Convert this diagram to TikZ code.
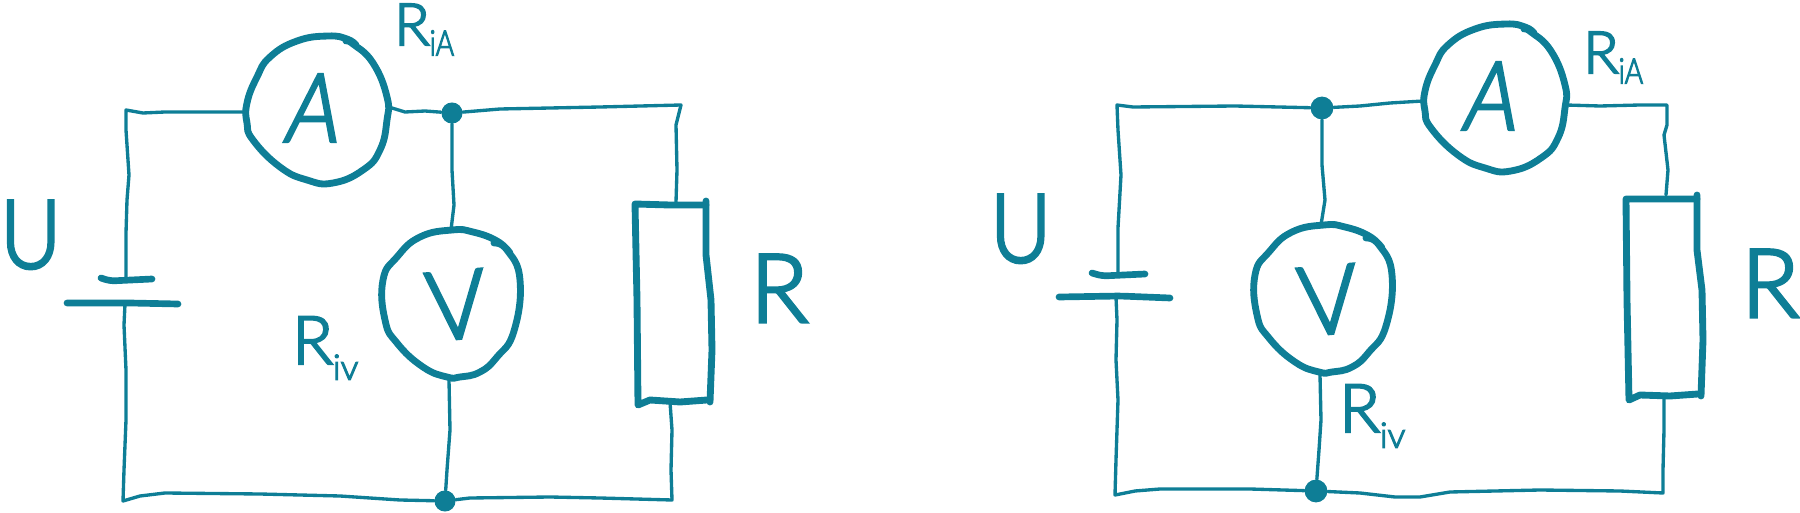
\documentclass[tikz,border=0pt]{standalone}
\usepackage{fontspec}
\setmainfont{Lato Light}[FakeBold=3.5]
\definecolor{ink}{HTML}{0E7E96}
\newcommand{\bigsize}{\fontsize{54pt}{54pt}\selectfont}
\newcommand{\midsize}{\fontsize{33pt}{33pt}\selectfont}
\newcommand{\larsize}{\fontsize{38pt}{38pt}\selectfont}
\newcommand{\subsize}{\fontsize{20pt}{20pt}\selectfont}
\newcommand{\ammeter}[3]{%
  \begin{scope}[shift={(#1,#2)}]
    \draw[ring] plot[smooth,tension=0.8] coordinates {(39,-65) (30,-71) (11,-74) (-20,-69) (-47,-53) (-60,-33) (-70,-7) (-70,13) (-64,30) (-37,57) (-10,70) (16,73) (46,60) (63,40) (70,10) (70,-13) (56,-47) (36,-66) (29,-69)};
  \end{scope}
  \node[letter,xslant=0.16,xscale=0.85] (#3) at ({#1-2},{#2-2}) {\bigsize A};
}
\newcommand{\voltmeter}[3]{%
  \begin{scope}[shift={(#1,#2)}]
    \draw[ring] plot[smooth,tension=0.8] coordinates {(58,-50) (45,-62) (21,-71) (0,-73) (-32,-66) (-55,-46) (-69,-23) (-67,17) (-55,40) (-29,64) (-5,74) (8,74) (28,69) (45,54) (62,28) (68,-23) (55,-53) (42,-60)};
  \end{scope}
  \node[letter,rotate=5,xscale=0.95] (#3) at ({#1+4},{#2+2}) {\bigsize V};
}
\begin{document}
\begin{tikzpicture}[x=0.02cm,y=-0.02cm,
  wire/.style={draw=ink,line width=1.9pt,line cap=round,line join=round},
  plate/.style={draw=ink,line width=3.8pt,line cap=round,line join=round,rounded corners=3pt},
  ring/.style={draw=ink,line width=3.9pt,line cap=round,line join=round},
  dot/.style={circle,fill=ink,inner sep=0pt,minimum size=12pt},
  letter/.style={text=ink,inner sep=0pt},
  label/.style={text=ink,inner sep=0pt,anchor=base west}]
\useasboundingbox (0,0) rectangle (1800,513);

% ---------- left circuit ----------
\coordinate (ltl) at (126,110);
\coordinate (lbl) at (123,501);
\coordinate (ltr) at (681,105);
\coordinate (lbr) at (672,500);
\coordinate (lp1) at (126,279);
\coordinate (lp2) at (125,304);
\coordinate (lrt) at (676,202);
\coordinate (lrb) at (670,402);
\ammeter{317}{110}{la}
\voltmeter{452}{303}{lv}
\coordinate (laL) at (245,112);
\coordinate (laR) at (388,110);
\coordinate (lvT) at (451,230);
\coordinate (lvB) at (449,380);
\node[dot] (ljt) at (452,113) {};
\node[dot] (ljb) at (445,501) {};

\draw[wire] (lp1) -- (126,233) -- (127,200) -- (129,175) -- (126,130) -- (ltl) -- (143,113) -- (165,112) -- (laL);
\draw[wire] (lp2) -- (124,325) -- (126,370) -- (126,420) -- (124,470) -- (lbl) -- (140,496) -- (165,493) -- (260,494) -- (340,496) -- (400,500) -- (ljb);
\draw[wire] (laR) -- (392,108) -- (405,112) -- (425,111) -- (ljt);
\draw[wire] (ljt) -- (500,109) -- (600,107) -- (ltr) -- (676,125) -- (677,170) -- (lrt);
\draw[wire] (ljt) -- (452,170) -- (454,205) -- (lvT);
\draw[wire] (lvB) -- (450,430) -- (447,470) -- (ljb);
\draw[wire] (ljb) -- (470,498) -- (550,497) -- (600,498) -- (lbr) -- (671,470) -- (672,430) -- (lrb);
\draw[plate] (101,278) -- (110,281) -- (152,279);
\draw[plate] (67,303) -- (130,303) -- (178,304);
\draw[ring] (706,201) -- (706,255) -- (711,300) -- (712,350) -- (710,402);
\draw[ring] (707,400) -- (680,402) -- (650,400) -- (638,405) -- (637,300) -- (635,204) -- (670,205) -- (706,205);

\node[label] (lu) at (0,268) {\bigsize\scalebox{0.88}[1]{U}};
\node[label] (lr) at (750,322) {\bigsize R};
\node[label] (lria) at (394,45) {\midsize R\raisebox{-6pt}{\subsize\scalebox{0.8}[1]{iA}}};
\node[label] (lriv) at (292,364) {\larsize R\raisebox{-9pt}{\subsize iv}};

% ---------- right circuit ----------
\coordinate (rtl) at (1117,105);
\coordinate (rbl) at (1115,495);
\coordinate (rtr) at (1667,105);
\coordinate (rbr) at (1663,493);
\coordinate (rp1) at (1118,274);
\coordinate (rp2) at (1116,297);
\coordinate (rrt) at (1666,195);
\coordinate (rrb) at (1664,398);
\ammeter{1495}{98}{ra}
\voltmeter{1324}{298}{rv}
\coordinate (raL) at (1423,101);
\coordinate (raR) at (1566,105);
\coordinate (rvT) at (1321,225);
\coordinate (rvB) at (1320,375);
\node[dot,minimum height=13pt] (rjt) at (1322,108) {};
\node[dot,minimum height=13pt] (rjb) at (1316,491) {};

\draw[wire] (rp1) -- (1118,228) -- (1121,175) -- (1118,130) -- (rtl) -- (1133,107) -- (1235,106) -- (rjt);
\draw[wire] (rp2) -- (1117,320) -- (1116,360) -- (1118,400) -- (1116,460) -- (rbl) -- (1135,491) -- (1160,489) -- (1250,489) -- (rjb);
\draw[wire] (rjt) -- (1360,106) -- (1390,103) -- (raL);
\draw[wire] (raR) -- (1600,106) -- (1640,105) -- (rtr) -- (1667,125) -- (1664,135) -- (1668,170) -- (rrt);
\draw[wire] (rjt) -- (1322,165) -- (1325,200) -- (rvT);
\draw[wire] (rvB) -- (1321,420) -- (1319,450) -- (rjb);
\draw[wire] (rjb) -- (1360,493) -- (1395,497) -- (1420,497) -- (1450,492) -- (1540,490) -- (1620,491) -- (rbr) -- (1663,470) -- (1664,430) -- (rrb);
\draw[plate] (1092,273) -- (1102,276) -- (1145,274);
\draw[plate] (1059,297) -- (1120,296) -- (1170,298);
\draw[ring] (1697,195) -- (1697,250) -- (1702,290) -- (1703,340) -- (1701,396);
\draw[ring] (1698,394) -- (1670,396) -- (1640,395) -- (1629,400) -- (1627,300) -- (1626,199) -- (1660,199) -- (1697,199);

\node[label] (ru) at (990,262) {\bigsize\scalebox{0.88}[1]{U}};
\node[label] (rr) at (1741,317) {\bigsize R};
\node[label] (rria) at (1583,73) {\midsize R\raisebox{-6pt}{\subsize\scalebox{0.8}[1]{iA}}};
\node[label] (rriv) at (1339,432) {\larsize R\raisebox{-9pt}{\subsize iv}};
\end{tikzpicture}
\end{document}
